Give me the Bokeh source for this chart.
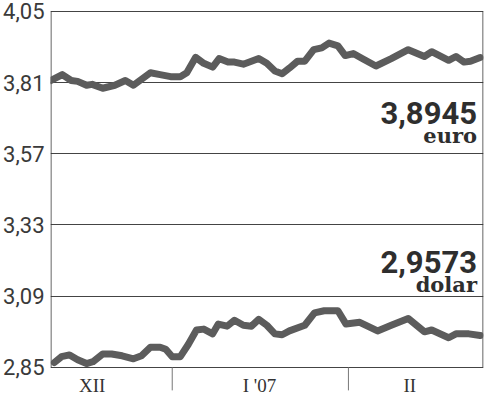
import math
from bokeh.plotting import figure
from bokeh.models import Range1d, FixedTicker, CustomJSTickFormatter, Label
from bokeh.embed import file_html
from bokeh.resources import INLINE

# session positions (trading-day scale) and rates
euro_x = [0.0, 1.4, 2.5, 3.3, 4.4, 5.1, 6.4, 7.9, 9.2, 10.2, 12.3, 13.5, 14.8, 16.0, 16.8,
          17.9, 18.9, 20.0, 20.8, 21.9, 22.7, 23.8, 24.8, 25.7, 26.7, 27.7, 28.6, 29.5,
          30.5, 31.4, 32.5, 33.5, 34.4, 35.5, 36.4, 37.4, 38.5, 40.2, 42.1, 44.2, 46.2,
          47.1, 49.2, 50.1, 51.1, 51.9, 53.1]
euro_y = [3.817, 3.837, 3.817, 3.814, 3.801, 3.804, 3.791, 3.801, 3.817, 3.801, 3.843,
          3.837, 3.830, 3.830, 3.843, 3.895, 3.875, 3.862, 3.891, 3.879, 3.879, 3.872,
          3.882, 3.891, 3.875, 3.849, 3.840, 3.859, 3.882, 3.882, 3.921, 3.927, 3.943,
          3.934, 3.901, 3.908, 3.891, 3.866, 3.891, 3.921, 3.898, 3.914, 3.885, 3.898,
          3.879, 3.882, 3.8945]

usd_x = [0.4, 1.3, 2.3, 3.3, 4.4, 5.2, 6.4, 7.5, 8.8, 10.2, 11.2, 12.3, 13.5, 14.2, 15.0,
         16.0, 17.0, 18.0, 18.9, 20.0, 20.7, 21.8, 22.7, 23.8, 24.8, 25.7, 26.7, 27.7,
         28.6, 29.5, 31.4, 32.6, 33.8, 35.5, 36.5, 38.2, 40.4, 42.1, 44.2, 46.2, 47.1,
         49.2, 50.1, 51.7, 53.1]
usd_y = [2.866, 2.886, 2.892, 2.876, 2.863, 2.869, 2.895, 2.895, 2.889, 2.879, 2.889,
         2.918, 2.918, 2.911, 2.886, 2.886, 2.928, 2.976, 2.979, 2.963, 2.996, 2.989,
         3.009, 2.992, 2.989, 3.012, 2.992, 2.963, 2.960, 2.973, 2.992, 3.034, 3.041,
         3.041, 2.996, 3.002, 2.973, 2.992, 3.015, 2.970, 2.976, 2.950, 2.963, 2.963,
         2.9573]

y_ticks = [2.85, 3.09, 3.33, 3.57, 3.81, 4.05]
month_labels = ["XII", "I '07", "II"]
month_label_pos = [5.1, 25.8, 44.4]
month_sep_pos = [15.0, 36.8]

X0, X1 = 0.0, 53.45          # chart box in session units
Y0, Y1 = y_ticks[0], y_ticks[-1]

p = figure(width=484, height=401, output_backend="svg", toolbar_location=None,
           x_range=Range1d(X0 - 0.06, X1 + 0.06), y_range=Range1d(2.735, 4.053),
           min_border_top=10, min_border_right=1, min_border_bottom=0, min_border_left=0)

p.outline_line_color = None
p.xaxis.visible = False
p.xgrid.visible = False
p.ygrid.ticker = FixedTicker(ticks=y_ticks)
p.ygrid.grid_line_color = "#444444"
p.ygrid.grid_line_width = 1
p.ygrid.grid_line_alpha = 1

ya = p.yaxis[0]
ya.ticker = FixedTicker(ticks=y_ticks)
ya.formatter = CustomJSTickFormatter(code="return tick.toFixed(2).replace('.', ',');")
ya.major_tick_out = 0
ya.major_tick_in = 0
ya.minor_tick_out = 0
ya.minor_tick_in = 0
ya.axis_line_color = None
ya.major_label_text_font = "Roboto"
ya.major_label_text_font_size = "22px"
ya.major_label_text_color = "#3a3a3a"
ya.major_label_standoff = 6

# chart box: left and right borders
p.segment(x0=[X0, X1], y0=[Y0, Y0], x1=[X0, X1], y1=[Y1, Y1], line_color="#333333", line_width=1)

# month separators hanging below the box
p.ray(x=month_sep_pos, y=[Y0] * len(month_sep_pos), length=23, length_units="screen",
      angle=-math.pi / 2, line_color="#777777", line_width=1)

for lbl, pos in zip(month_labels, month_label_pos):
    p.add_layout(Label(x=pos, y=Y0, y_offset=-8, text=lbl, text_align="center",
                       text_baseline="top", text_font="Liberation Serif",
                       text_font_size="19px", text_color="#333333"))

p.line(euro_x, euro_y, line_color="#5c5c5c", line_width=7, line_join="round", line_cap="round")
p.line(usd_x, usd_y, line_color="#5c5c5c", line_width=7, line_join="round", line_cap="round")

for txt, yv, font, size in [("3,8945", 3.707, "Roboto", "31px"),
                            ("euro", 3.633, "DejaVu Serif", "21px"),
                            ("2,9573", 3.206, "Roboto", "31px"),
                            ("dolar", 3.131, "DejaVu Serif", "21px")]:
    p.add_layout(Label(x=X1, y=yv, x_offset=-6, text=txt, text_align="right",
                       text_baseline="alphabetic", text_font=font, text_font_size=size,
                       text_font_style="bold", text_color="#2e2e2e"))

open("out.html", "w").write(file_html(p, INLINE))
